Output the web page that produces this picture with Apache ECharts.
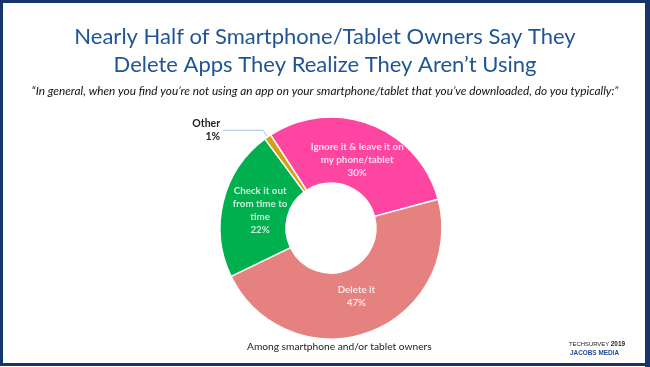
<!DOCTYPE html>
<html>
<head>
<meta charset="utf-8">
<script src="https://cdn.jsdelivr.net/npm/echarts@6/dist/echarts.min.js"></script>
<style>
html,body{margin:0;padding:0;background:#fff;}
#c{width:650px;height:367px;}
</style>
</head>
<body>
<div id="c"></div>
<script>
var titleLines = ['Nearly Half of Smartphone/Tablet Owners Say They', 'Delete Apps They Realize They Aren\u2019t Using'];
var subtitle = '\u201CIn general, when you find you\u2019re not using an app on your smartphone/tablet that you\u2019ve downloaded, do you typically:\u201D';
var categories = ['Ignore it & leave it on\nmy phone/tablet', 'Delete it', 'Check it out\nfrom time to\ntime', 'Other'];
var values = [30, 47, 22, 1];
var colors = ['#FF45A2', '#E5817E', '#00B04F', '#D4A010'];
var footnote = 'Among smartphone and/or tablet owners';

var CENTER = [331, 228];
var R_IN = 45, R_OUT = 111;
var R_LABEL = 73;
var START = 123;

var chart = echarts.init(document.getElementById('c'), null, {renderer: 'canvas'});

var ringData = categories.map(function (c, i) {
  var item = {name: c, value: values[i], itemStyle: {color: colors[i]}, label: {show: false}, labelLine: {show: false}};
  if (i === 3) {
    item.label = {show: true, position: 'outside', color: '#222', fontWeight: 'bold', fontSize: 10.5, lineHeight: 13.5,
      fontFamily: 'Lato', distanceToLabelLine: 3,
      formatter: function (p) { return p.name + '\n' + p.value + '%'; }};
    item.labelLine = {show: true, lineStyle: {color: '#9DC3E6', width: 1}, length: 8, length2: 40};
  }
  return item;
});

// label anchors in polar coords: [radius, cumulative mid value]
var total = values.reduce(function (a, b) { return a + b; }, 0);
var cum = 0;
var labelPoints = [];
values.forEach(function (v, i) {
  var mid = cum + v / 2;
  cum += v;
  if (i !== 3) {
    labelPoints.push({value: [R_LABEL, mid / total * 100], name: categories[i], pct: v});
  }
});

chart.setOption({
  animation: false,
  title: [{
    text: titleLines.join('\n'),
    left: 'center', top: 18,
    textStyle: {fontFamily: 'Lato', fontWeight: 'normal', fontSize: 22, color: '#1F5594', lineHeight: 28}
  }, {
    text: subtitle,
    left: 'center', top: 80,
    textStyle: {fontFamily: 'Lato', fontStyle: 'italic', fontWeight: 'normal', fontSize: 11.8, color: '#111'}
  }],
  polar: {center: CENTER, radius: R_OUT},
  angleAxis: {type: 'value', min: 0, max: 100, startAngle: START, clockwise: true, show: false},
  radiusAxis: {type: 'value', min: 0, max: R_OUT, show: false},
  graphic: [
    {type: 'rect', shape: {x: 1.5, y: 1.5, width: 645, height: 363}, style: {fill: 'none', stroke: '#16356B', lineWidth: 3}, z: 100},
    {type: 'rect', shape: {x: 645, y: 0, width: 5, height: 367}, style: {fill: '#16356B'}, z: 100},
    {type: 'text', left: 247, top: 342, style: {text: footnote, font: '10.2px Lato', fill: '#222'}},
    {type: 'text', left: 569, top: 341, style: {
      text: '{a|TECHSURVEY }{b|2019}',
      rich: {a: {font: '5.9px "Liberation Sans"', fill: '#222'}, b: {font: 'bold 6.4px "Liberation Sans"', fill: '#222'}}
    }},
    {type: 'text', left: 570, top: 350, style: {text: 'JACOBS MEDIA', font: 'bold 6.4px "Liberation Sans"', fill: '#1F4E8C'}}
  ],
  series: [{
    type: 'pie',
    center: CENTER,
    radius: [R_IN, R_OUT],
    startAngle: START,
    clockwise: true,
    avoidLabelOverlap: false,
    silent: true,
    itemStyle: {borderColor: '#fff', borderWidth: 1.5},
    emphasis: {disabled: true},
    data: ringData
  }, {
    type: 'scatter',
    coordinateSystem: 'polar',
    symbolSize: 1,
    silent: true,
    z: 5,
    itemStyle: {color: 'rgba(0,0,0,0)'},
    label: {
      show: true, position: 'inside',
      formatter: function (p) { return p.data.name + '\n' + p.data.pct + '%'; },
      color: '#fff', fontWeight: 'bold', fontSize: 9.8, lineHeight: 13,
      fontFamily: 'Lato', align: 'center', verticalAlign: 'middle'
    },
    emphasis: {disabled: true},
    data: labelPoints
  }]
});
</script>
</body>
</html>
